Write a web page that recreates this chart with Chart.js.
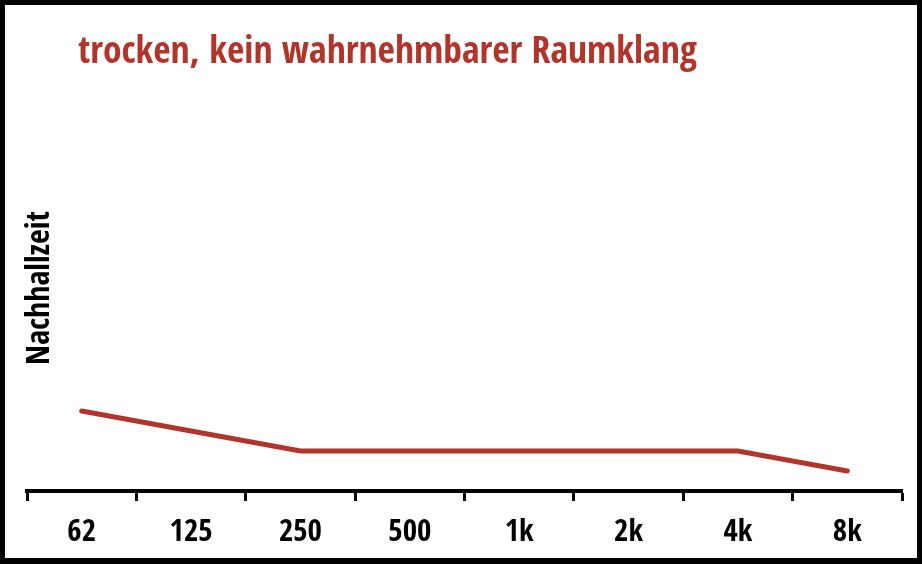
<!DOCTYPE html>
<html>
<head>
<meta charset="utf-8">
<script src="https://cdn.jsdelivr.net/npm/chart.js@4"></script>
<style>
  html, body { margin: 0; padding: 0; background: #fff; }
  #wrap { width: 922px; height: 564px; position: relative; }
</style>
</head>
<body>
<div id="wrap"><canvas id="chart" width="922" height="564"></canvas></div>
<script>
(() => {
  "use strict";

  // Frequenzbänder (Hz) und relative Nachhallzeit
  const bands = ["62", "125", "250", "500", "1k", "2k", "4k", "8k"];
  const nachhall = [2.0, 1.5, 1.0, 1.0, 1.0, 1.0, 1.0, 0.5];
  const yRange = [0, 10];

  const titleText = "trocken, kein wahrnehmbarer Raumklang";
  const yLabel = "Nachhallzeit";
  const red = "#b1352b";
  const cond = "'Open Sans Condensed', 'Roboto Condensed', sans-serif";

  // Rahmen + Texte
  const decor = {
    id: "decor",
    beforeDraw(chart) {
      const { ctx, width, height } = chart;
      ctx.save();
      ctx.fillStyle = "#fff";
      ctx.fillRect(0, 0, width, height);
      ctx.restore();
    },
    afterDraw(chart) {
      const { ctx, width, height } = chart;
      ctx.save();
      ctx.fillStyle = "#000";
      ctx.fillRect(0, 0, width, 5);
      ctx.fillRect(0, height - 6, width, 6);
      ctx.fillRect(0, 0, 5, height);
      ctx.fillRect(width - 5, 0, 5, height);

      ctx.fillStyle = red;
      ctx.font = "bold 37.7px " + cond;
      ctx.textBaseline = "alphabetic";
      ctx.textAlign = "left";
      ctx.fillText(titleText, 78, 63);

      ctx.fillStyle = "#000";
      ctx.font = "bold 32px " + cond;
      ctx.translate(41, 288);
      ctx.rotate(-Math.PI / 2);
      ctx.textAlign = "center";
      ctx.textBaseline = "middle";
      ctx.fillText(yLabel, 0, 0);
      ctx.restore();
    },
  };

  new Chart(document.getElementById("chart"), {
    type: "line",
    data: {
      labels: bands,
      datasets: [{
        data: nachhall,
        borderColor: red,
        borderWidth: 5,
        borderCapStyle: "round",
        pointRadius: 0,
        tension: 0,
      }],
    },
    options: {
      responsive: false,
      animation: false,
      layout: { padding: { left: 27, right: 20, top: 91, bottom: 0 } },
      plugins: { legend: { display: false }, tooltip: { enabled: false } },
      scales: {
        x: {
          offset: true,
          afterFit: (scale) => { scale.height = 73; },
          grid: {
            offset: true,
            drawOnChartArea: false,
            drawTicks: true,
            tickLength: 10,
            tickWidth: 3,
            tickColor: "#000",
          },
          border: { display: true, color: "#000", width: 4 },
          ticks: {
            color: "#000",
            padding: 16,
            maxRotation: 0,
            font: { family: cond, size: 31, weight: "bold", lineHeight: 1 },
          },
        },
        y: { display: false, min: yRange[0], max: yRange[1] },
      },
    },
    plugins: [decor],
  });
})();
</script>
</body>
</html>
